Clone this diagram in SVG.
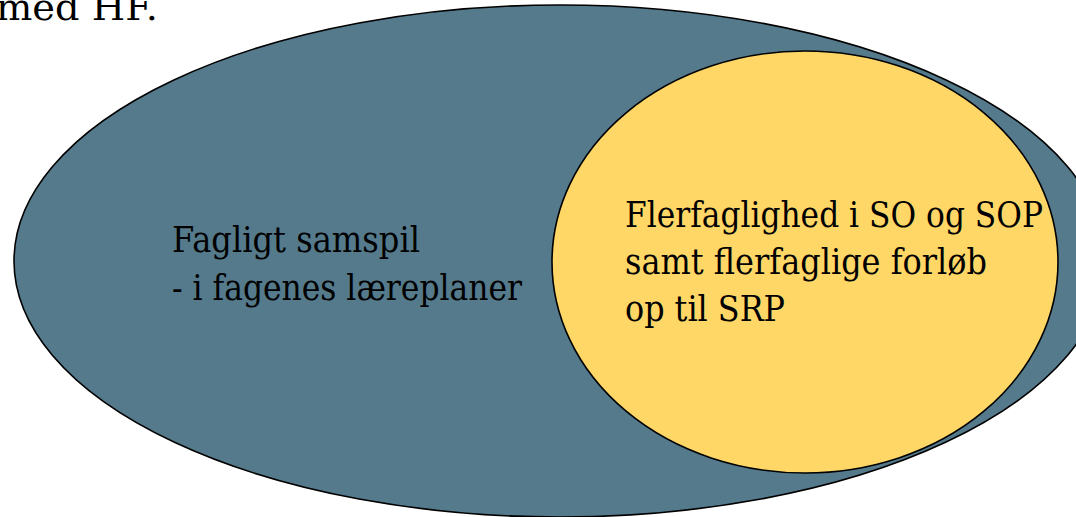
<svg xmlns="http://www.w3.org/2000/svg" width="1076" height="517" viewBox="0 0 1076 517">
<style>
text{font-family:'DejaVu Serif',serif;font-size:35px;fill:#000}
.sh{stroke:#000;stroke-width:1.6}
</style>
<rect width="1076" height="517" fill="#fff"/>
<text x="-4" y="20" textLength="162" lengthAdjust="spacingAndGlyphs">med HF.</text>
<g id="outer">
<ellipse class="sh" cx="560" cy="261" rx="546" ry="256" fill="#547A8C"/>
<text x="172" y="252" textLength="248" lengthAdjust="spacingAndGlyphs">Fagligt samspil</text>
<text x="172" y="300" textLength="350" lengthAdjust="spacingAndGlyphs">- i fagenes læreplaner</text>
</g>
<g id="inner">
<ellipse class="sh" cx="805" cy="262" rx="253" ry="211" fill="#FFD766"/>
<text x="625" y="227" textLength="418" lengthAdjust="spacingAndGlyphs">Flerfaglighed i SO og SOP</text>
<text x="625" y="274" textLength="362" lengthAdjust="spacingAndGlyphs">samt flerfaglige forløb</text>
<text x="625" y="321" textLength="160" lengthAdjust="spacingAndGlyphs">op til SRP</text>
</g>
<g id="connectors"/>
</svg>
